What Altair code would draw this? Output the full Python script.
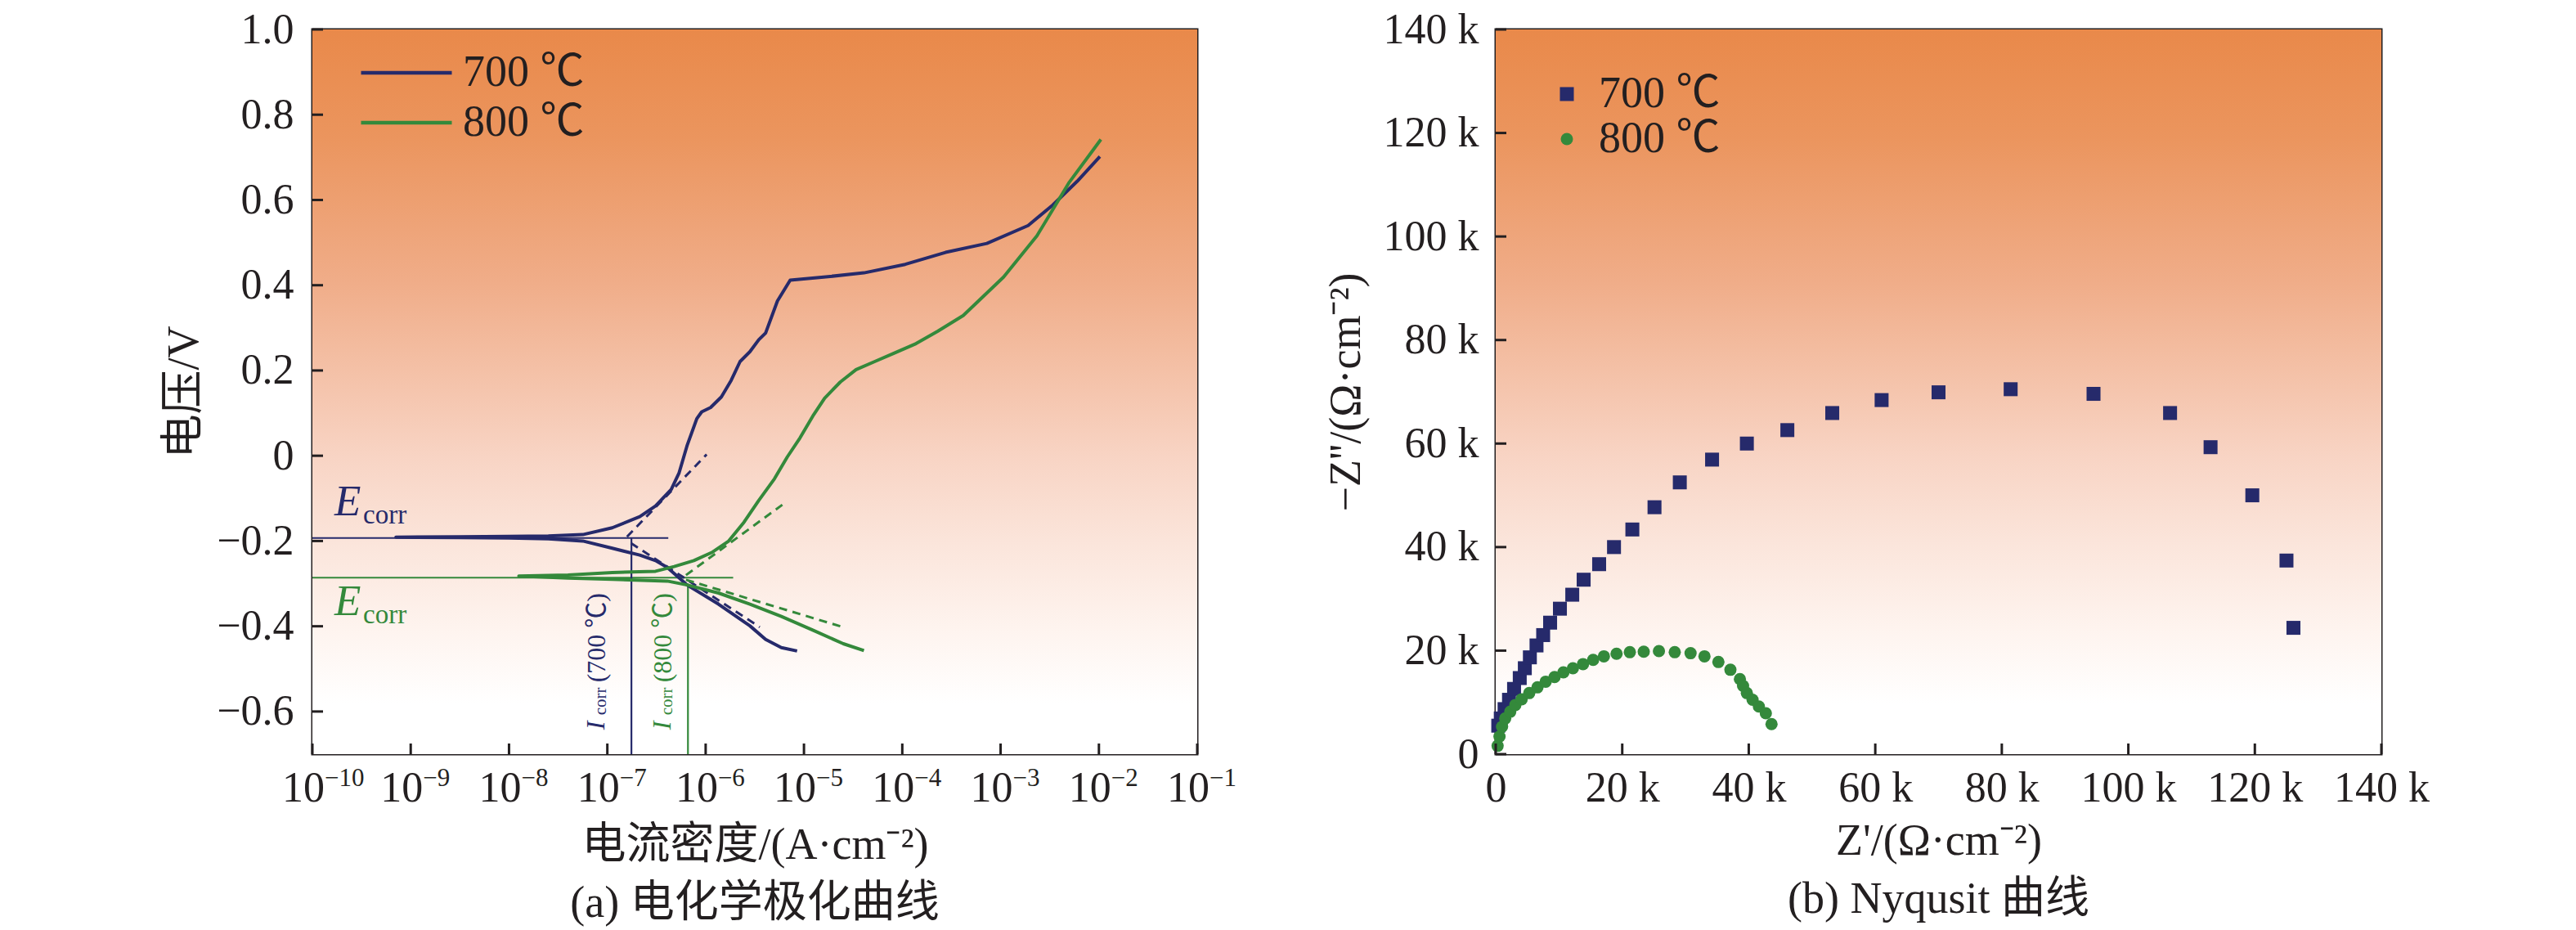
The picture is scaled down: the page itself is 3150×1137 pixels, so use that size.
import altair as alt
import pandas as pd

FONT = "Liberation Serif, Noto Sans CJK SC"
INK = "#231f20"
NAVY = "#262a6b"
GREEN = "#34893b"

# ---------------- data: (a) polarization curves ----------------
series = ["700 ℃", "800 ℃"]
series_colors = [NAVY, GREEN]

# log10(current density), potential (V); path runs cathodic end -> Ecorr -> anodic end
p700_logi = [-5.07, -5.23, -5.39, -5.55, -5.87, -6.19, -6.39, -6.51, -6.67, -6.95, -7.25, -7.6,
             -8.0, -8.5, -9.15, -8.5, -8.0, -7.6, -7.25, -6.95, -6.67, -6.51, -6.35, -6.27,
             -6.19, -6.09, -6.04, -5.95, -5.84, -5.74, -5.65, -5.55, -5.46, -5.39, -5.27,
             -5.14, -4.80, -4.39, -3.97, -3.56, -3.14, -2.72, -2.47, -2.22, -1.99]
p700_E = [-0.458, -0.450, -0.431, -0.399, -0.348, -0.303, -0.262, -0.246, -0.233, -0.217, -0.200,
          -0.195, -0.193, -0.192, -0.191, -0.190, -0.189, -0.188, -0.185, -0.169, -0.143, -0.118,
          -0.079, -0.040, 0.023, 0.087, 0.103, 0.113, 0.138, 0.177, 0.221, 0.244, 0.272, 0.288,
          0.363, 0.412, 0.419, 0.429, 0.449, 0.477, 0.498, 0.540, 0.588, 0.644, 0.702]

p800_logi = [-4.39, -4.60, -4.91, -5.23, -5.55, -5.87, -6.19, -6.39, -6.95, -7.4, -7.9, -7.4,
             -6.95, -6.51, -6.32, -6.12, -5.93, -5.77, -5.61, -5.46, -5.30, -5.17, -5.04, -4.91,
             -4.79, -4.63, -4.47, -4.28, -4.09, -3.86, -3.64, -3.38, -2.97, -2.63, -2.30, -1.98]
p800_E = [-0.457, -0.441, -0.409, -0.377, -0.348, -0.322, -0.303, -0.294, -0.290, -0.287, -0.282,
          -0.280, -0.274, -0.271, -0.260, -0.246, -0.226, -0.201, -0.156, -0.105, -0.054, -0.003,
          0.042, 0.093, 0.135, 0.173, 0.202, 0.221, 0.240, 0.263, 0.292, 0.329, 0.419, 0.516,
          0.642, 0.742]

# Tafel extrapolation lines (dashed)
tafel_series = ["700 ℃", "700 ℃", "800 ℃", "800 ℃"]
tafel_logi0 = [-6.80, -6.76, -6.20, -6.20]
tafel_E0 = [-0.190, -0.205, -0.280, -0.291]
tafel_logi1 = [-5.99, -5.45, -5.22, -4.63]
tafel_E1 = [0.003, -0.402, -0.115, -0.400]

# Ecorr horizontals and Icorr verticals
ecorr_E = [-0.193, -0.286]
ecorr_logi_end = [-6.38, -5.72]
icorr_logi = [-6.755, -6.18]
icorr_E_top = [-0.193, -0.300]

# annotation anchors
elabel_logi = [-9.775, -9.775]
elabel_E = [-0.140, -0.374]
ilabel_logi = [-7.03, -6.356]
ilabel_E = [-0.643, -0.643]
ilabel_paren = ["(700 ℃)", "(800 ℃)"]

x_exp = list(range(-10, 0))
x_tick_base = ["10"] * 10
x_tick_sup = ["−10", "−9", "−8", "−7", "−6", "−5", "−4", "−3", "−2", "−1"]
y_ticks_a = [-0.6, -0.4, -0.2, 0.0, 0.2, 0.4, 0.6, 0.8, 1.0]

# ---------------- data: (b) Nyquist ----------------
n700_re = [0.4, 0.8, 1.4, 2.1, 2.9, 3.8, 4.6, 5.4, 6.45, 7.5, 8.6, 10.15, 12.1, 13.9, 16.35, 18.7,
           21.6, 25.1, 29.1, 34.2, 39.7, 46.1, 53.2, 61.0, 70.0, 81.4, 94.5, 106.6, 113.0, 119.6,
           125.0, 126.1]
n700_im = [5.5, 6.9, 8.7, 10.5, 12.6, 14.7, 16.6, 18.7, 21.0, 23.0, 25.4, 28.1, 30.8, 33.7, 36.7,
           40.0, 43.4, 47.7, 52.5, 56.9, 60.0, 62.6, 65.9, 68.4, 69.9, 70.5, 69.6, 65.9, 59.3,
           50.0, 37.4, 24.4]
n800_re = [0.3, 0.6, 1.0, 1.5, 2.3, 3.1, 4.1, 5.3, 6.6, 7.9, 9.3, 10.7, 12.2, 13.8, 15.4, 17.1,
           19.1, 21.2, 23.4, 25.8, 28.3, 30.8, 33.0, 35.2, 37.1, 38.6, 39.1, 39.7, 40.6, 41.6,
           42.7, 43.6]
n800_im = [1.6, 3.4, 5.3, 6.9, 8.2, 9.5, 10.6, 11.8, 12.9, 14.0, 14.9, 15.8, 16.6, 17.4, 18.2,
           18.9, 19.4, 19.7, 19.8, 19.9, 19.7, 19.5, 18.9, 17.8, 16.3, 14.5, 13.2, 11.8, 10.5, 9.2,
           7.9, 5.8]
nyq_ticks = [0, 20, 40, 60, 80, 100, 120, 140]

# ---------------- styling ----------------
W_A, W_B, H = 1082, 1083, 886
TICK = 13
grad_stops = [(0.0, "#e9894a"), (0.15, "#eb955e"), (0.35, "#f0ad89"), (0.59, "#f8d4c4"),
              (0.71, "#fbe5db"), (0.83, "#fef4ef"), (0.93, "#ffffff"), (1.0, "#ffffff")]
BG = {"gradient": "linear", "x1": 0, "y1": 0, "x2": 0, "y2": 1,
      "stops": [{"offset": o, "color": c} for o, c in grad_stops]}
color_of = dict(zip(series, series_colors))

# ---------------- panel (a) ----------------
xs = alt.Scale(type="log", domain=[1e-10, 1e-1], nice=False)
ys = alt.Scale(domain=[-0.7, 1.0], nice=False, zero=False)
xa = alt.Axis(values=[10.0 ** e for e in x_exp], labels=False,
              title="电流密度/(A·cm⁻²)", titlePadding=84)
ya = alt.Axis(values=y_ticks_a, labelExpr="datum.value == 0 ? '0' : replace(format(datum.value, '.1f'), '-', '−')",
              title="电压/V", labelFlush=False, labelOverlap=False, labelPadding=23, titlePadding=12)


def XA(f):
    return alt.X(f + ":Q", scale=xs, axis=xa)


def YA(f):
    return alt.Y(f + ":Q", scale=ys, axis=ya)


bgA = alt.Chart(pd.DataFrame({"x": [1e-10], "x2": [1e-1], "y": [-0.7], "y2": [1.0]})).mark_rect(fill=BG).encode(
    x=XA("x"), x2="x2:Q", y=YA("y"), y2="y2:Q")

curve_rows = []
for name, li, ee in [("700 ℃", p700_logi, p700_E), ("800 ℃", p800_logi, p800_E)]:
    for k, (a, b) in enumerate(zip(li, ee)):
        curve_rows.append({"temp": name, "i": 10.0 ** a, "E": b, "k": k})
curves = alt.Chart(pd.DataFrame(curve_rows)).mark_line(strokeWidth=4, strokeJoin="round").encode(
    x=XA("i"), y=YA("E"), order="k:Q",
    color=alt.Color("temp:N", scale=alt.Scale(domain=series, range=series_colors),
                    legend=alt.Legend(orient="none", legendX=51, legendY=26, title=None,
                                      symbolType="M-1,0H5", symbolSize=1369, symbolStrokeWidth=4.5,
                                      labelOffset=79, rowPadding=7, padding=0, labelLimit=0)))

tafel_rows = []
for j, s in enumerate(tafel_series):
    tafel_rows.append({"id": j, "k": 0, "i": 10.0 ** tafel_logi0[j], "E": tafel_E0[j], "col": color_of[s]})
    tafel_rows.append({"id": j, "k": 1, "i": 10.0 ** tafel_logi1[j], "E": tafel_E1[j], "col": color_of[s]})
tafel = alt.Chart(pd.DataFrame(tafel_rows)).mark_line(strokeWidth=3, strokeDash=[10, 7]).encode(
    x=XA("i"), y=YA("E"), detail="id:N", order="k:Q", color=alt.Color("col:N", scale=None))

ecorr = alt.Chart(pd.DataFrame({"x0": [1e-10, 1e-10], "x1": [10.0 ** v for v in ecorr_logi_end],
                                "E": ecorr_E, "col": series_colors})).mark_rule(strokeWidth=2.2).encode(
    x=XA("x0"), x2="x1:Q", y=YA("E"), color=alt.Color("col:N", scale=None))
icorr = alt.Chart(pd.DataFrame({"x": [10.0 ** v for v in icorr_logi], "E0": icorr_E_top,
                                "E1": [-0.7, -0.7], "col": series_colors})).mark_rule(strokeWidth=2.2).encode(
    x=XA("x"), y=YA("E0"), y2="E1:Q", color=alt.Color("col:N", scale=None))

xtick_df = pd.DataFrame({"v": [10.0 ** e for e in x_exp], "base": x_tick_base, "sup": x_tick_sup})
xtickA = alt.Chart(xtick_df).mark_rule(strokeWidth=3, color=INK).encode(
    x=XA("v"), y=alt.value(H - TICK), y2=alt.value(H))
xlabA = alt.Chart(xtick_df).mark_text(font=FONT, fontSize=52, color=INK, align="right",
                                      baseline="alphabetic", dx=15).encode(
    x=XA("v"), y=alt.value(H + 58), text="base:N")
xsupA = alt.Chart(xtick_df).mark_text(font=FONT, fontSize=31, color=INK, align="left",
                                      baseline="alphabetic", dx=15, dy=-19).encode(
    x=XA("v"), y=alt.value(H + 58), text="sup:N")
ytickA = alt.Chart(pd.DataFrame({"v": y_ticks_a})).mark_rule(strokeWidth=3, color=INK).encode(
    y=YA("v"), x=alt.value(0), x2=alt.value(TICK))

elab = pd.DataFrame({"i": [10.0 ** v for v in elabel_logi], "E": elabel_E, "col": series_colors,
                     "main": ["E", "E"], "sub": ["corr", "corr"]})
e_main = alt.Chart(elab).mark_text(font=FONT, fontStyle="italic", fontSize=53, align="left",
                                   baseline="alphabetic").encode(
    x=XA("i"), y=YA("E"), text="main:N", color=alt.Color("col:N", scale=None))
e_sub = alt.Chart(elab).mark_text(font=FONT, fontSize=33, align="left", baseline="alphabetic",
                                  dx=35, dy=10).encode(
    x=XA("i"), y=YA("E"), text="sub:N", color=alt.Color("col:N", scale=None))

ilab = pd.DataFrame({"i": [10.0 ** v for v in ilabel_logi], "E": ilabel_E, "col": series_colors,
                     "main": ["I", "I"], "sub": ["corr", "corr"], "par": ilabel_paren})
i_main = alt.Chart(ilab).mark_text(font=FONT, fontStyle="italic", fontSize=32, align="left",
                                   baseline="alphabetic", angle=270).encode(
    x=XA("i"), y=YA("E"), text="main:N", color=alt.Color("col:N", scale=None))
i_sub = alt.Chart(ilab).mark_text(font=FONT, fontSize=21, align="left", baseline="alphabetic",
                                  angle=270, dx=18, dy=2).encode(
    x=XA("i"), y=YA("E"), text="sub:N", color=alt.Color("col:N", scale=None))
i_par = alt.Chart(ilab).mark_text(font=FONT, fontSize=32, align="left", baseline="alphabetic",
                                  angle=270, dx=58, dy=1).encode(
    x=XA("i"), y=YA("E"), text="par:N", color=alt.Color("col:N", scale=None))

panelA = alt.layer(bgA, ecorr, icorr, tafel, curves, xtickA, xlabA, xsupA, ytickA,
                   e_main, e_sub, i_main, i_sub, i_par
                   ).properties(width=W_A, height=H,
                                title=alt.TitleParams("(a) 电化学极化曲线", orient="bottom", offset=18))

# ---------------- panel (b) ----------------
bs = alt.Scale(domain=[0, 140], nice=False, zero=True)
kexpr = "datum.value == 0 ? '0' : datum.value + ' k'"
xb = alt.Axis(values=nyq_ticks, labelExpr=kexpr, title="Z'/(Ω·cm⁻²)", labelFlush=False,
              labelOverlap=False, labelPadding=16, titlePadding=12)
yb = alt.Axis(values=nyq_ticks, labelExpr=kexpr, title="−Z''/(Ω·cm⁻²)", labelFlush=False,
              labelOverlap=False, labelPadding=21, titlePadding=18)


def XB(f):
    return alt.X(f + ":Q", scale=bs, axis=xb)


def YB(f):
    return alt.Y(f + ":Q", scale=bs, axis=yb)


bgB = alt.Chart(pd.DataFrame({"x": [0], "x2": [140], "y": [0], "y2": [140]})).mark_rect(fill=BG).encode(
    x=XB("x"), x2="x2:Q", y=YB("y"), y2="y2:Q")

nyq_rows = []
for name, re_, im_ in [("700 ℃", n700_re, n700_im), ("800 ℃", n800_re, n800_im)]:
    for a, b in zip(re_, im_):
        nyq_rows.append({"sample": name, "zr": a, "zi": b})
pts = alt.Chart(pd.DataFrame(nyq_rows)).mark_point(filled=True, opacity=1, strokeWidth=0).encode(
    x=XB("zr"), y=YB("zi"),
    color=alt.Color("sample:N", scale=alt.Scale(domain=series, range=series_colors),
                    legend=alt.Legend(orient="none", legendX=60, legendY=52, title=None, symbolSize=300,
                                      labelOffset=12, rowPadding=1, padding=0, labelLimit=0)),
    shape=alt.Shape("sample:N", scale=alt.Scale(domain=series, range=["square", "circle"])),
    size=alt.Size("sample:N", scale=alt.Scale(domain=series, range=[290, 225]), legend=None))

xtickB = alt.Chart(pd.DataFrame({"v": nyq_ticks})).mark_rule(strokeWidth=3, color=INK).encode(
    x=XB("v"), y=alt.value(H - TICK), y2=alt.value(H))
ytickB = alt.Chart(pd.DataFrame({"v": nyq_ticks})).mark_rule(strokeWidth=3, color=INK).encode(
    y=YB("v"), x=alt.value(0), x2=alt.value(TICK))

panelB = alt.layer(bgB, pts, xtickB, ytickB).properties(
    width=W_B, height=H, title=alt.TitleParams("(b) Nyqusit 曲线", orient="bottom", offset=18))

chart = alt.hconcat(panelA, panelB, spacing=103).resolve_scale(
    color="independent", shape="independent", size="independent").resolve_legend(
    color="independent", shape="independent").properties(
    padding={"left": 189, "top": 0, "right": 5, "bottom": 5}, background="white"
).configure_view(stroke=INK, strokeWidth=3).configure_axis(
    labelFont=FONT, labelFontSize=52, labelColor=INK, titleFont=FONT, titleFontSize=54,
    titleFontWeight="normal", titleColor=INK, ticks=False, domain=False, grid=False
).configure_legend(labelFont=FONT, labelFontSize=54, labelColor=INK).configure_title(
    font=FONT, fontSize=54, fontWeight="normal", color=INK, anchor="middle")

chart.save("out.html", embed_options={"renderer": "svg", "actions": False})
